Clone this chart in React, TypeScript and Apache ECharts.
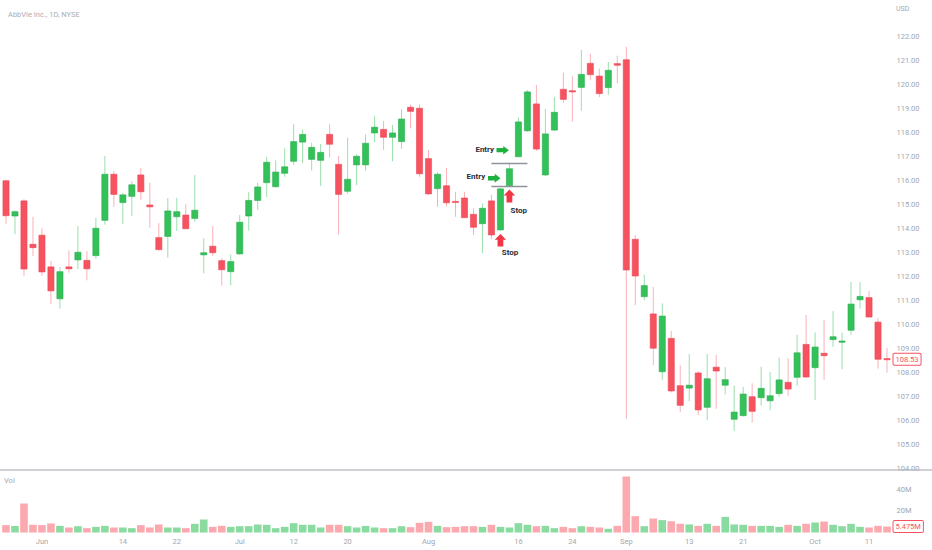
import React, { useEffect, useRef } from "react";
import * as echarts from "echarts";

const dates = [
  "2021-05-25","2021-05-26","2021-05-27","2021-05-28",
  "2021-06-01","2021-06-02","2021-06-03","2021-06-04","2021-06-07","2021-06-08","2021-06-09","2021-06-10","2021-06-11",
  "2021-06-14","2021-06-15","2021-06-16","2021-06-17","2021-06-18","2021-06-21","2021-06-22","2021-06-23","2021-06-24",
  "2021-06-25","2021-06-28","2021-06-29","2021-06-30",
  "2021-07-01","2021-07-02","2021-07-06","2021-07-07","2021-07-08","2021-07-09","2021-07-12","2021-07-13","2021-07-14",
  "2021-07-15","2021-07-16","2021-07-19","2021-07-20","2021-07-21","2021-07-22","2021-07-23","2021-07-26","2021-07-27",
  "2021-07-28","2021-07-29","2021-07-30",
  "2021-08-02","2021-08-03","2021-08-04","2021-08-05","2021-08-06","2021-08-09","2021-08-10","2021-08-11","2021-08-12",
  "2021-08-13","2021-08-16","2021-08-17","2021-08-18","2021-08-19","2021-08-20","2021-08-23","2021-08-24","2021-08-25",
  "2021-08-26","2021-08-27","2021-08-30","2021-08-31",
  "2021-09-01","2021-09-02","2021-09-03","2021-09-07","2021-09-08","2021-09-09","2021-09-10","2021-09-13","2021-09-14",
  "2021-09-15","2021-09-16","2021-09-17","2021-09-20","2021-09-21","2021-09-22","2021-09-23","2021-09-24","2021-09-27",
  "2021-09-28","2021-09-29","2021-09-30",
  "2021-10-01","2021-10-04","2021-10-05","2021-10-06","2021-10-07","2021-10-08","2021-10-11","2021-10-12","2021-10-13"
];

const opens = [
  115.97,114.50,115.13,113.32,113.70,112.38,111.05,112.38,112.67,112.65,112.85,114.32,116.24,115.06,115.32,116.21,114.96,
  113.60,113.65,114.47,114.54,114.40,112.88,113.24,112.64,112.18,112.92,114.50,115.15,115.89,115.72,116.28,116.78,117.58,
  116.86,116.82,117.90,116.65,115.53,116.63,116.63,117.96,118.11,117.78,117.60,119.03,118.99,116.89,115.64,115.76,115.11,
  115.25,114.57,114.18,115.13,113.92,115.76,116.97,118.05,119.17,116.21,118.08,119.78,119.72,119.86,120.86,120.33,119.85,
  120.85,121.01,113.53,111.14,110.42,108.01,109.40,107.43,107.33,107.96,106.53,108.20,107.45,106.03,106.18,106.97,106.93,
  106.80,107.10,107.57,107.78,109.15,108.18,108.78,109.35,109.24,109.74,111.01,111.10,110.08,108.56
];
const highs = [
  116.01,114.74,115.20,114.47,113.99,112.63,112.38,113.07,114.08,113.04,114.42,117.00,116.38,115.46,115.95,116.51,115.89,
  114.20,115.25,115.26,115.01,116.21,113.57,114.08,112.74,112.90,114.54,115.49,115.89,116.96,116.82,117.32,118.33,118.10,
  117.55,117.50,118.33,117.00,117.76,117.07,117.90,118.67,118.46,118.29,118.95,119.14,119.14,117.25,116.32,116.51,115.51,
  115.51,114.82,115.01,115.38,115.65,116.72,118.61,119.75,119.96,118.96,119.46,120.47,120.33,121.42,121.26,120.64,120.92,
  121.18,121.55,113.70,112.05,111.54,110.86,109.71,108.28,108.74,108.03,108.75,108.71,108.20,107.43,107.38,107.53,108.22,
  108.00,108.60,108.57,109.55,110.38,109.65,110.17,110.54,109.64,111.75,111.74,111.38,110.24,109.00
];
const lows = [
  114.18,113.74,112.01,112.83,112.01,110.83,110.63,112.14,112.30,111.82,112.72,114.14,114.88,114.17,114.51,115.17,114.01,
  113.05,112.76,113.88,113.95,114.26,112.11,112.82,111.60,111.61,112.88,113.89,114.76,115.29,115.68,116.13,116.63,116.70,
  116.39,115.76,116.93,113.72,115.43,115.79,116.39,117.58,117.26,116.78,117.30,118.15,116.13,115.39,114.89,114.89,114.47,
  114.43,113.71,112.95,113.53,113.88,115.72,116.95,118.01,117.21,116.17,118.05,119.22,118.43,118.88,120.17,119.45,119.55,
  120.03,106.05,110.79,110.99,108.28,107.67,107.15,106.33,106.78,106.21,105.99,106.47,107.07,105.54,106.15,105.89,106.60,
  106.40,106.97,107.00,107.42,107.76,106.83,107.67,109.05,108.11,109.55,110.63,110.29,108.14,107.97
];
const closes = [
  114.51,114.68,112.29,113.18,112.17,111.38,112.18,112.30,112.99,112.30,113.99,116.24,115.40,115.38,115.80,115.51,114.88,
  113.10,114.71,114.68,113.97,114.74,112.97,112.97,112.26,112.60,114.24,115.15,115.71,116.74,116.33,116.55,117.60,117.90,
  117.36,117.15,117.49,115.40,116.03,116.99,117.53,118.20,117.78,117.96,118.54,118.86,116.26,115.42,116.24,115.05,115.08,
  114.43,114.03,114.82,113.71,115.63,116.47,118.42,119.67,117.29,117.92,118.82,119.36,119.68,120.40,120.39,119.60,120.57,
  120.78,112.25,112.00,111.60,108.99,110.33,107.21,106.61,107.45,106.42,107.72,108.04,107.68,106.33,107.08,106.36,107.32,
  107.01,107.67,107.29,108.80,107.79,109.04,108.68,109.47,109.29,110.83,111.15,110.29,108.53,108.53
];
const volumesM = [
  6.8,6.1,26.7,7.1,6.8,8.3,6.1,4.6,5.8,4.0,5.2,6.1,4.6,4.6,4.0,6.8,4.6,7.4,4.6,4.6,4.0,8.0,12.0,5.2,6.1,5.2,5.8,5.8,7.4,
  7.1,4.0,5.2,8.6,7.1,7.1,4.6,7.1,7.1,5.8,4.6,6.1,4.6,4.0,4.0,5.8,4.9,8.9,9.8,6.1,4.9,5.2,
  5.8,5.8,5.2,7.1,5.2,4.6,8.6,7.1,5.8,6.1,4.0,5.2,4.0,5.8,5.2,4.6,3.4,6.1,51.6,15.0,5.8,12.9,11.4,10.4,8.0,7.4,6.1,8.0,
  6.1,14.4,7.4,7.1,6.1,6.1,6.1,5.2,7.1,6.1,8.0,9.2,10.1,7.1,5.8,8.0,5.2,4.6,6.1,5.475
];

const xTickDates = [
  "2021-06-01","2021-06-14","2021-06-22","2021-07-01","2021-07-12","2021-07-20","2021-08-02",
  "2021-08-16","2021-08-24","2021-09-01","2021-09-13","2021-09-21","2021-10-01","2021-10-11"
];
const xTickLabels = ["Jun","14","22","Jul","12","20","Aug","16","24","Sep","13","21","Oct","11"];

const lastPrice = 108.53;
const lastVolumeM = 5.475;
const entryLevels = [116.71, 115.72];

const UP = "#33c15a";
const UP_EDGE = "#28ab4c";
const DOWN = "#f7525f";
const DOWN_EDGE = "#ea4654";
const UP_WICK = "rgba(51,193,90,0.5)";
const DOWN_WICK = "rgba(247,82,95,0.45)";
const VOL_UP = "rgba(51,193,90,0.58)";
const VOL_DOWN = "rgba(247,82,95,0.5)";
const AXIS_TEXT = "#a3a6ae";
const FONT = "Roboto, 'Liberation Sans', sans-serif";

const ARROW_RIGHT = "path://M0,3L7,3L7,0L13,6L7,12L7,9L0,9Z";
const ARROW_UP = "path://M3,13L3,6L0,6L6,0L12,6L9,6L9,13Z";

const priceBoxLabel = (text: string) => ({
  show: true,
  position: "end",
  distance: 2,
  formatter: text,
  color: DOWN,
  backgroundColor: "#ffffff",
  borderColor: DOWN,
  borderWidth: 1,
  borderRadius: 1,
  padding: [2, 2, 1, 2],
  fontSize: 7.5,
  fontFamily: FONT,
  opacity: 1,
});

export default function App() {
  const ref = useRef<HTMLDivElement>(null);

  useEffect(() => {
    document.body.style.margin = "0";
    const chart = echarts.init(ref.current!, null, { renderer: "svg" });

    const candleData = dates.map((d, i) => [i, opens[i], closes[i], lows[i], highs[i]]);
    const volData = volumesM.map((v, i) => ({
      value: v * 1e6,
      itemStyle: { color: closes[i] >= opens[i] ? VOL_UP : VOL_DOWN },
    }));

    const textMark = (idx: number, price: number, text: string, dx: number) => ({
      coord: [dates[idx], price],
      symbol: "rect",
      symbolSize: 1,
      symbolOffset: [dx, 0],
      itemStyle: { color: "rgba(0,0,0,0)" },
      label: {
        show: true,
        position: "inside",
        formatter: text,
        fontSize: 8,
        fontWeight: "bold",
        color: "#2a2e39",
        fontFamily: FONT,
      },
    });
    const arrowMark = (idx: number, price: number, symbol: string, size: number[], dx: number, color: string) => ({
      coord: [dates[idx], price],
      symbol,
      symbolSize: size,
      symbolOffset: [dx, 0],
      itemStyle: { color },
      label: { show: false },
    });

    const option: any = {
      animation: false,
      backgroundColor: "#ffffff",
      title: {
        text: "AbbVie Inc., 1D, NYSE",
        left: 3,
        top: 5,
        textStyle: { fontSize: 7.5, color: "#a9acb4", fontWeight: "normal", fontFamily: FONT },
      },
      grid: [
        { left: 1.5, width: 890, top: 36, height: 432 },
        { left: 1.5, width: 890, top: 467.4, height: 65.1 },
      ],
      xAxis: [
        {
          type: "category",
          gridIndex: 0,
          data: dates,
          axisLine: { show: false },
          axisTick: { show: false },
          axisLabel: { show: false },
          splitLine: { show: false },
        },
        {
          type: "category",
          gridIndex: 1,
          data: dates,
          axisLine: { show: false },
          axisTick: { show: false },
          splitLine: { show: false },
          axisLabel: {
            interval: (index: number, value: string) => xTickDates.includes(value),
            formatter: (value: string) => {
              const k = xTickDates.indexOf(value);
              return k >= 0 ? xTickLabels[k] : "";
            },
            fontSize: 7.5,
            color: AXIS_TEXT,
            fontFamily: FONT,
            margin: 5,
          },
        },
      ],
      yAxis: [
        {
          type: "value",
          gridIndex: 0,
          position: "right",
          min: 104,
          max: 122,
          interval: 1,
          axisLine: { show: false },
          axisTick: { show: false },
          splitLine: { show: false },
          axisLabel: {
            formatter: (v: number) => v.toFixed(2),
            fontSize: 7.5,
            color: AXIS_TEXT,
            fontFamily: FONT,
            margin: 5,
          },
        },
        {
          type: "value",
          gridIndex: 1,
          position: "right",
          min: 0,
          max: 60e6,
          interval: 20e6,
          axisLine: { show: false },
          axisTick: { show: false },
          splitLine: { show: false },
          axisLabel: {
            formatter: (v: number) => (v === 20e6 ? "20M" : v === 40e6 ? "40M" : ""),
            fontSize: 7.5,
            color: AXIS_TEXT,
            fontFamily: FONT,
            margin: 5,
          },
        },
      ],
      graphic: [
        {
          type: "rect",
          z: 100,
          shape: { x: 893, y: 470.5, width: 39, height: 6 },
          style: { fill: "#ffffff" },
        },
        {
          type: "line",
          z: 101,
          shape: { x1: 0, y1: 470, x2: 932, y2: 470 },
          style: { stroke: "#9da1a8", lineWidth: 1 },
        },
        {
          type: "text",
          z: 101,
          x: 896,
          y: 5,
          style: { text: "USD", fontSize: 7, fill: AXIS_TEXT, fontFamily: FONT },
        },
        {
          type: "text",
          z: 101,
          x: 4,
          y: 476,
          style: { text: "Vol", fontSize: 7.5, fill: AXIS_TEXT, fontFamily: FONT },
        },
      ],
      series: [
        {
          type: "custom",
          name: "ABBV",
          xAxisIndex: 0,
          yAxisIndex: 0,
          data: candleData,
          encode: { x: 0, y: [1, 2, 3, 4] },
          renderItem: (params: any, api: any) => {
            const i = api.value(0);
            const o = api.value(1);
            const c = api.value(2);
            const l = api.value(3);
            const h = api.value(4);
            const pO = api.coord([i, o]);
            const pC = api.coord([i, c]);
            const pL = api.coord([i, l]);
            const pH = api.coord([i, h]);
            const bw = api.size([1, 0])[0] * 0.68;
            const up = c >= o;
            const top = Math.min(pO[1], pC[1]);
            const hgt = Math.max(Math.abs(pO[1] - pC[1]), 1.2);
            return {
              type: "group",
              children: [
                {
                  type: "line",
                  shape: { x1: pO[0], y1: pH[1], x2: pO[0], y2: pL[1] },
                  style: { stroke: up ? UP_WICK : DOWN_WICK, lineWidth: 1 },
                },
                {
                  type: "rect",
                  shape: { x: pO[0] - bw / 2, y: top, width: bw, height: hgt },
                  style: { fill: up ? UP : DOWN, stroke: up ? UP_EDGE : DOWN_EDGE, lineWidth: 0.6 },
                },
              ],
            };
          },
          markLine: {
            silent: true,
            symbol: "none",
            animation: false,
            data: [
              {
                yAxis: lastPrice,
                lineStyle: { color: "rgba(0,0,0,0)", width: 1, type: "solid" },
                label: priceBoxLabel(lastPrice.toFixed(2)),
              },
              [
                { coord: [dates[54], entryLevels[0]], lineStyle: { color: "#8f939b", width: 1.4, type: "solid" }, label: { show: false } },
                { coord: [dates[58], entryLevels[0]] },
              ],
              [
                { coord: [dates[54], entryLevels[1]], lineStyle: { color: "#8f939b", width: 1.4, type: "solid" }, label: { show: false } },
                { coord: [dates[58], entryLevels[1]] },
              ],
            ],
          },
          markPoint: {
            silent: true,
            animation: false,
            data: [
              arrowMark(55, 117.24, ARROW_RIGHT, [12.5, 8.5], 2.3, "#1fb040"),
              arrowMark(54, 116.07, ARROW_RIGHT, [12.5, 9], 2.8, "#1fb040"),
              arrowMark(56, 115.33, ARROW_UP, [11.5, 13], 0, "#f23645"),
              arrowMark(55, 113.49, ARROW_UP, [11.5, 12.5], 0, "#f23645"),
              textMark(54, 117.29, "Entry", -6.7),
              textMark(53, 116.15, "Entry", -6.5),
              textMark(57, 114.71, "Stop", 0.3),
              textMark(56, 112.99, "Stop", 0.6),
            ],
          },
        },
        {
          type: "bar",
          name: "Vol",
          xAxisIndex: 1,
          yAxisIndex: 1,
          data: volData,
          barWidth: 7.6,
          markLine: {
            silent: true,
            symbol: "none",
            animation: false,
            data: [
              {
                yAxis: lastVolumeM * 1e6,
                lineStyle: { color: "rgba(0,0,0,0)", width: 1, type: "solid" },
                label: priceBoxLabel(lastVolumeM.toFixed(3) + "M"),
              },
            ],
          },
        },
      ],
    };

    chart.setOption(option);
    return () => chart.dispose();
  }, []);

  return <div ref={ref} style={{ width: 932, height: 550 }} />;
}
